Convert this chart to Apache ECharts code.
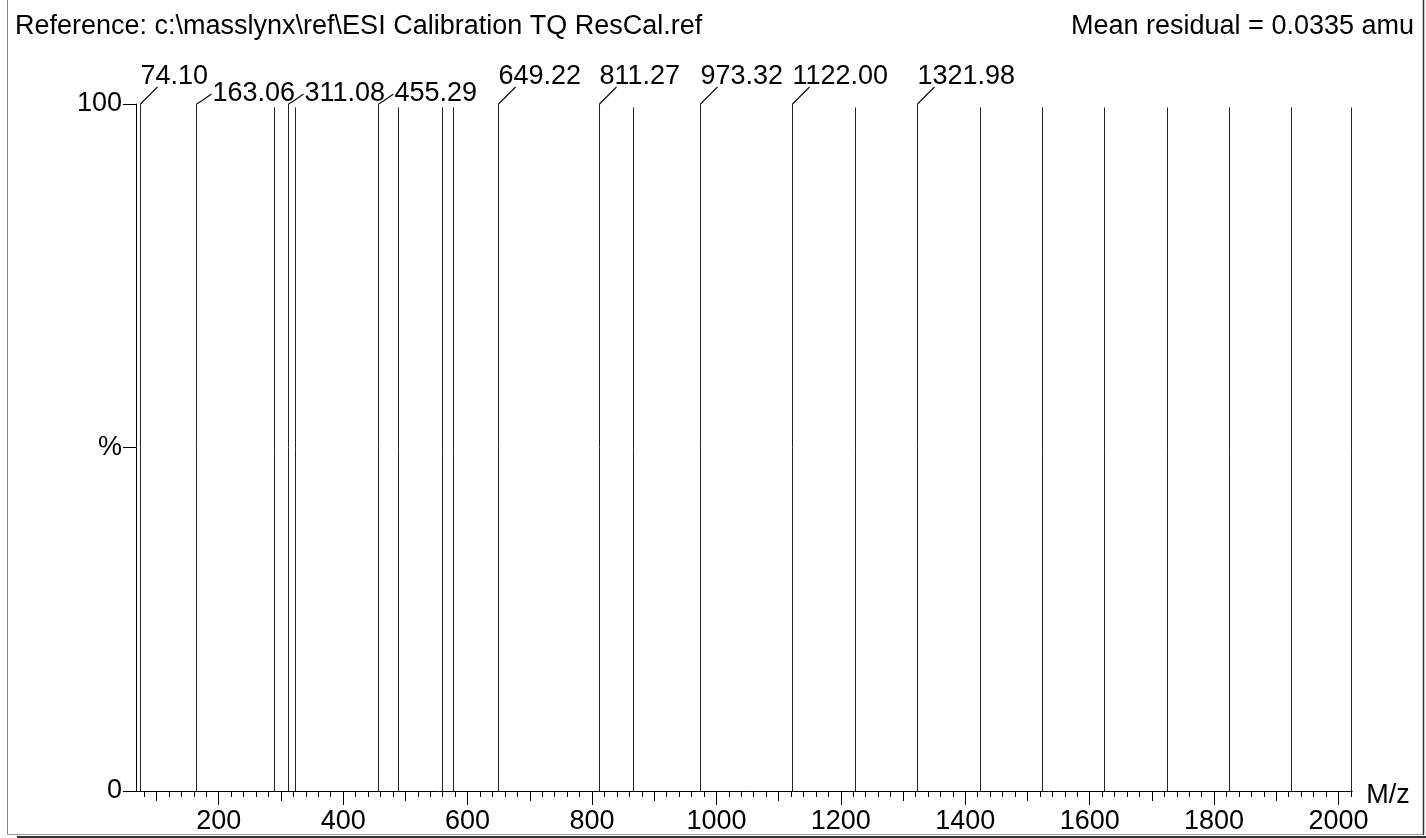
<!DOCTYPE html>
<html>
<head>
<meta charset="utf-8">
<style>html,body{margin:0;padding:0;background:#fff;}#chart{width:1426px;height:838px;}</style>
<script src="https://cdn.jsdelivr.net/npm/echarts@6/dist/echarts.min.js"></script>
</head>
<body>
<div id="chart"></div>
<script>
// ---- data ----
const labeledPeaks = [74.10, 163.06, 311.08, 455.29, 649.22, 811.27, 973.32, 1122.00, 1321.98];
const labeledIntensity = [100, 100, 100, 100, 100, 100, 100, 100, 100];
const otherPeaks = [289.0, 322.0, 488.0, 558.5, 576.0, 865.5, 1222.0, 1423.0, 1523.0, 1623.0, 1724.0, 1823.5, 1923.0, 2019.5];
const otherIntensity = [99.5, 99.5, 99.5, 99.5, 99.5, 99.5, 99.5, 99.5, 99.5, 99.5, 99.5, 99.5, 99.5, 99.5];
const xMajorTicks = [200, 400, 600, 800, 1000, 1200, 1400, 1600, 1800, 2000];
const xMidTicks = [100, 300, 500, 700, 900, 1100, 1300, 1500, 1700, 1900];
const yTicks = [0, 50, 100];
const yTickLabels = ['0', '%', '100'];
const headerLeft = 'Reference: c:\\masslynx\\ref\\ESI Calibration TQ ResCal.ref';
const headerRight = 'Mean residual = 0.0335 amu';
const xName = 'M/z';
const lowRowLabels = [163.06, 311.08, 455.29];

const xMin = 67, xMax = 2022;
const xMinorTicks = [];
for (let v = 80; v <= 2020; v += 20) { if (v % 100 !== 0) xMinorTicks.push(v); }

const FONT = '"Liberation Sans", Arial, sans-serif';
const data = [];
labeledPeaks.forEach((m, i) => data.push([m, labeledIntensity[i], 1]));
otherPeaks.forEach((m, i) => data.push([m, otherIntensity[i], 0]));

function baseX(extra) {
  return Object.assign({
    type: 'value', min: xMin, max: xMax, gridIndex: 0, position: 'bottom',
    splitLine: { show: false },
    axisLine: { show: false },
    axisLabel: { show: false },
    axisTick: { show: true, inside: false, lineStyle: { color: '#000', width: 1 } }
  }, extra);
}

const chart = echarts.init(document.getElementById('chart'), null, { renderer: 'canvas' });
chart.setOption({
  animation: false,
  backgroundColor: '#fff',
  grid: { left: 136, right: 73.8, top: 104, bottom: 47, containLabel: false },
  xAxis: [
    baseX({
      axisLine: { show: true, onZero: false, lineStyle: { color: '#000', width: 1 } },
      axisTick: { show: true, length: 14, customValues: xMajorTicks, lineStyle: { color: '#000', width: 1 } },
      axisLabel: { show: true, customValues: xMajorTicks, margin: 17, color: '#000', fontSize: 27, fontFamily: FONT,
        formatter: function (v) { return String(v); } },
      name: xName, nameLocation: 'end', nameGap: 14, nameMoveOverlap: false,
      nameTextStyle: { color: '#000', fontSize: 27, fontFamily: FONT, verticalAlign: 'top', lineHeight: 10 }
    }),
    baseX({ axisTick: { show: true, length: 10, customValues: xMidTicks, lineStyle: { color: '#000', width: 1 } } }),
    baseX({ axisTick: { show: true, length: 6, customValues: xMinorTicks, lineStyle: { color: '#000', width: 1 } } })
  ],
  yAxis: {
    type: 'value', min: 0, max: 100,
    splitLine: { show: false },
    axisLine: { show: true, lineStyle: { color: '#000', width: 1 } },
    axisTick: { show: true, length: 13, customValues: yTicks, lineStyle: { color: '#000', width: 1 } },
    axisLabel: {
      show: true, customValues: yTicks, margin: 14, color: '#000', fontSize: 27, fontFamily: FONT,
      formatter: function (v) { const i = yTicks.indexOf(v); return i >= 0 ? yTickLabels[i] : ''; }
    }
  },
  series: [{
    type: 'custom',
    xAxisIndex: 0,
    clip: false,
    data: data,
    renderItem: function (params, api) {
      const m = api.value(0), h = api.value(1), lab = api.value(2);
      const top = api.coord([m, h]);
      const base = api.coord([m, 0]);
      const px = Math.round(top[0]) + 0.5;
      const children = [{
        type: 'line',
        shape: { x1: px, y1: base[1], x2: px, y2: top[1] },
        style: { stroke: '#222', lineWidth: 1 }
      }];
      if (lab) {
        const low = lowRowLabels.indexOf(m) >= 0;
        const ty = top[1];
        let pts, tx, tyText;
        if (low) {
          pts = [[px, ty], [px + 5, ty - 3], [px + 15, ty - 10]];
          tx = px + 16; tyText = ty + 3;
        } else {
          pts = [[px, ty], [px + 17, ty - 17]];
          tx = px; tyText = ty - 14;
        }
        children.push({
          type: 'polyline', shape: { points: pts },
          style: { stroke: '#111', lineWidth: 1.3, fill: null }
        });
        children.push({
          type: 'text',
          style: { text: m.toFixed(2), x: tx, y: tyText, fill: '#000', font: '27px ' + FONT, align: 'left', verticalAlign: 'bottom' }
        });
      }
      return { type: 'group', children: children };
    }
  }],
  graphic: [
    { type: 'text', style: { text: headerLeft, x: 15, y: 40, fill: '#000', font: '27px ' + FONT, align: 'left', verticalAlign: 'bottom' } },
    { type: 'text', style: { text: headerRight, x: 1414, y: 40, fill: '#000', font: '27px ' + FONT, align: 'right', verticalAlign: 'bottom' } },
    { type: 'line', shape: { x1: 7.5, y1: 0, x2: 7.5, y2: 834 }, style: { stroke: '#888', lineWidth: 1 } },
    { type: 'line', shape: { x1: 7, y1: 834.5, x2: 1423, y2: 834.5 }, style: { stroke: '#999', lineWidth: 1 } },
    { type: 'line', shape: { x1: 1423.5, y1: 0, x2: 1423.5, y2: 835 }, style: { stroke: '#333', lineWidth: 1.5 } },
    { type: 'line', shape: { x1: 17, y1: 837, x2: 1426, y2: 837 }, style: { stroke: '#333', lineWidth: 2 } }
  ]
});
</script>
</body>
</html>
